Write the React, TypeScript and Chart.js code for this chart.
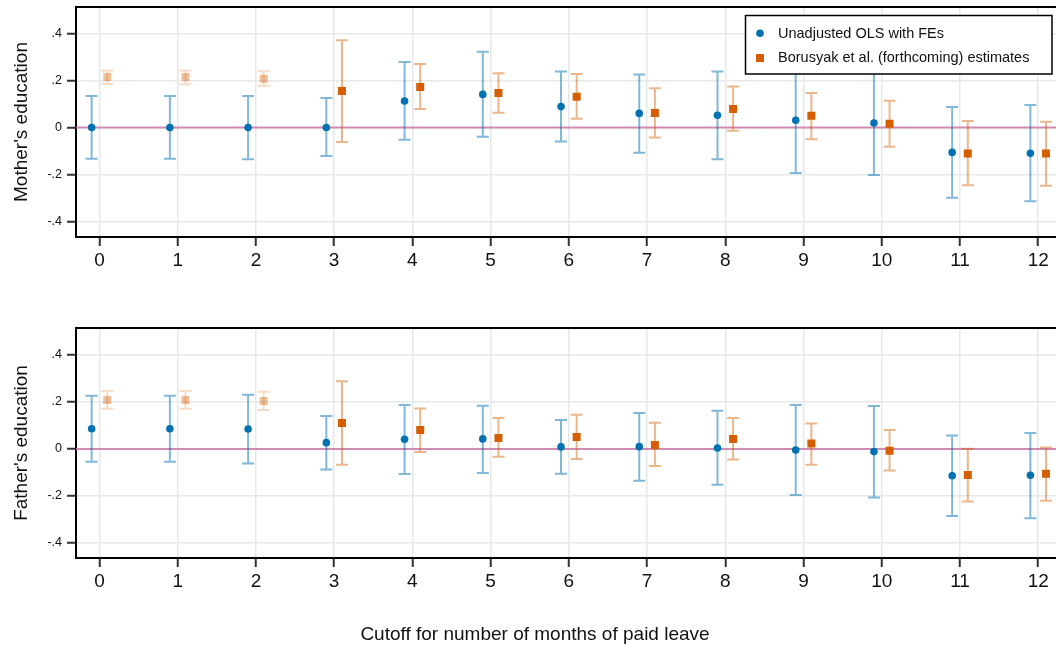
import React, { useEffect, useRef } from "react";
import { Chart, registerables } from "chart.js";

Chart.register(...registerables);

// ---------- data ----------
const months = [0, 1, 2, 3, 4, 5, 6, 7, 8, 9, 10, 11, 12];
const yTickValues = [-0.4, -0.2, 0, 0.2, 0.4];
const preTreatmentMonths = [0, 1, 2];

const motherOls = [0, 0, 0, 0, 0.113, 0.141, 0.089, 0.06, 0.052, 0.031, 0.019, -0.106, -0.11];
const motherOlsLo = [-0.133, -0.133, -0.135, -0.121, -0.052, -0.039, -0.059, -0.107, -0.135, -0.194, -0.202, -0.299, -0.314];
const motherOlsHi = [0.134, 0.134, 0.134, 0.126, 0.279, 0.323, 0.238, 0.226, 0.238, 0.256, 0.24, 0.087, 0.096];

const motherBjs = [0.215, 0.215, 0.208, 0.155, 0.172, 0.147, 0.131, 0.062, 0.079, 0.05, 0.016, -0.111, -0.111];
const motherBjsLo = [0.185, 0.184, 0.178, -0.062, 0.079, 0.063, 0.037, -0.042, -0.014, -0.05, -0.082, -0.246, -0.248];
const motherBjsHi = [0.243, 0.243, 0.239, 0.372, 0.27, 0.231, 0.228, 0.167, 0.175, 0.147, 0.114, 0.028, 0.025];

const fatherOls = [0.086, 0.086, 0.085, 0.027, 0.041, 0.043, 0.009, 0.01, 0.004, -0.004, -0.011, -0.114, -0.112];
const fatherOlsLo = [-0.054, -0.054, -0.062, -0.087, -0.106, -0.102, -0.105, -0.135, -0.152, -0.196, -0.206, -0.285, -0.295];
const fatherOlsHi = [0.227, 0.227, 0.231, 0.14, 0.187, 0.184, 0.123, 0.153, 0.163, 0.187, 0.183, 0.057, 0.068];

const fatherBjs = [0.209, 0.209, 0.204, 0.111, 0.081, 0.047, 0.051, 0.017, 0.043, 0.023, -0.007, -0.111, -0.105];
const fatherBjsLo = [0.171, 0.171, 0.166, -0.067, -0.013, -0.033, -0.043, -0.072, -0.045, -0.067, -0.092, -0.224, -0.22];
const fatherBjsHi = [0.247, 0.247, 0.244, 0.288, 0.172, 0.132, 0.146, 0.112, 0.132, 0.109, 0.081, 0.001, 0.006];

const olsLabel = "Unadjusted OLS with FEs";
const bjsLabel = "Borusyak et al. (forthcoming) estimates";
const xTitle = "Cutoff for number of months of paid leave";
const motherTitle = "Mother's education";
const fatherTitle = "Father's education";

// ---------- styles ----------
const FONT = "'Liberation Sans', Arial, Helvetica, sans-serif";
const BLUE = "rgb(0,114,178)";
const BLUE_BAR = "rgba(0,114,178,0.5)";
const ORANGE = "rgb(213,94,0)";
const ORANGE_BAR = "rgba(213,94,0,0.45)";
const ORANGE_FADED = "rgba(213,94,0,0.4)";
const ORANGE_BAR_FADED = "rgba(213,94,0,0.22)";
const ZERO_LINE = "rgba(204,121,167,0.85)";
const GRID = "#e8e8e8";
const OFFSET = 0.1;
const W = 1056;
const CANVAS_W = 1065;
const TOP_H = 300;
const BOT_H = 351;

Chart.defaults.font.family = FONT;

const fmtTick = (v: number) => {
  if (Math.abs(v) < 1e-9) return "0";
  const s = Math.abs(v).toFixed(1).replace(/^0/, "");
  return (v < 0 ? "-" : "") + s;
};

const isFaded = (m: number) => preTreatmentMonths.includes(m);

const decorPlugin = {
  id: "decor",
  beforeDatasetsDraw(chart: any) {
    const { ctx, chartArea, scales } = chart;
    const x = scales.x;
    const y = scales.y;
    ctx.save();
    ctx.beginPath();
    ctx.rect(chartArea.left, chartArea.top, chartArea.right - chartArea.left, chartArea.bottom - chartArea.top);
    ctx.clip();
    // zero line
    const y0 = y.getPixelForValue(0);
    ctx.strokeStyle = ZERO_LINE;
    ctx.lineWidth = 2;
    ctx.beginPath();
    ctx.moveTo(chartArea.left, y0);
    ctx.lineTo(chartArea.right, y0);
    ctx.stroke();
    // error bars
    chart.data.datasets.forEach((ds: any) => {
      ds.data.forEach((pt: any, i: number) => {
        const px = x.getPixelForValue(pt.x);
        const top = y.getPixelForValue(ds.errHi[i]);
        const bot = y.getPixelForValue(ds.errLo[i]);
        ctx.strokeStyle = ds.fadeOld && isFaded(ds.months[i]) ? ds.errColorFaded : ds.errColor;
        ctx.lineWidth = 2;
        ctx.beginPath();
        ctx.moveTo(px, top);
        ctx.lineTo(px, bot);
        ctx.moveTo(px - 6, top);
        ctx.lineTo(px + 6, top);
        ctx.moveTo(px - 6, bot);
        ctx.lineTo(px + 6, bot);
        ctx.stroke();
      });
    });
    ctx.restore();
  },
  afterDraw(chart: any) {
    const { ctx, chartArea } = chart;
    const o = chart.options.plugins.decor || {};
    ctx.save();
    // top frame line
    ctx.strokeStyle = "#000";
    ctx.lineWidth = 2;
    ctx.beginPath();
    ctx.moveTo(chartArea.left - 1, chartArea.top);
    ctx.lineTo(chartArea.right, chartArea.top);
    ctx.stroke();

    if (o.legend) {
      const lx = 745.5, ly = 15.5, lw = 306.5, lh = 58.5;
      ctx.fillStyle = "#fff";
      ctx.fillRect(lx, ly, lw, lh);
      ctx.strokeStyle = "#000";
      ctx.lineWidth = 1.5;
      ctx.strokeRect(lx, ly, lw, lh);
      ctx.fillStyle = BLUE;
      ctx.beginPath();
      ctx.arc(760, 33.3, 3.8, 0, Math.PI * 2);
      ctx.fill();
      ctx.fillStyle = ORANGE;
      ctx.fillRect(756, 54, 8, 8);
      ctx.fillStyle = "#111";
      ctx.font = `14.5px ${FONT}`;
      ctx.textBaseline = "middle";
      ctx.textAlign = "left";
      ctx.fillText(olsLabel, 778, 33.5);
      ctx.fillText(bjsLabel, 778, 58.3);
    }
    if (o.xTitle) {
      ctx.fillStyle = "#111";
      ctx.font = `19px ${FONT}`;
      ctx.textBaseline = "middle";
      ctx.textAlign = "center";
      ctx.fillText(o.xTitle, 535, 335);
    }
    ctx.restore();
  },
};

interface PanelOpts {
  title: string;
  ols: number[]; olsLo: number[]; olsHi: number[];
  bjs: number[]; bjsLo: number[]; bjsHi: number[];
  yMin: number; yMax: number;
  padTop: number; xAxisHeight: number;
  legend: boolean; xTitle?: string;
}

function makeChart(canvas: HTMLCanvasElement, o: PanelOpts) {
  return new Chart(canvas, {
    type: "scatter",
    data: {
      datasets: [
        {
          label: olsLabel,
          data: months.map((m, i) => ({ x: m - OFFSET, y: o.ols[i] })),
          pointStyle: "circle",
          pointRadius: 3.8,
          backgroundColor: BLUE,
          borderWidth: 0,
          errLo: o.olsLo, errHi: o.olsHi, errColor: BLUE_BAR, errColorFaded: BLUE_BAR,
          fadeOld: false, months,
        } as any,
        {
          label: bjsLabel,
          data: months.map((m, i) => ({ x: m + OFFSET, y: o.bjs[i] })),
          pointStyle: "rect",
          pointRadius: 5.66,
          backgroundColor: months.map((m) => (isFaded(m) ? ORANGE_FADED : ORANGE)),
          borderWidth: 0,
          errLo: o.bjsLo, errHi: o.bjsHi, errColor: ORANGE_BAR, errColorFaded: ORANGE_BAR_FADED,
          fadeOld: true, months,
        } as any,
      ],
    },
    options: {
      animation: false,
      responsive: false,
      devicePixelRatio: 1,
      events: [],
      layout: { padding: { top: o.padTop, left: 0, right: 0, bottom: 0 } },
      plugins: {
        legend: { display: false },
        tooltip: { enabled: false },
        decor: { legend: o.legend, xTitle: o.xTitle },
      } as any,
      scales: {
        x: {
          type: "linear",
          min: -0.3,
          max: 12.27,
          afterBuildTicks: (s: any) => { s.ticks = months.map((v) => ({ value: v })); },
          afterFit: (s: any) => { s.height = o.xAxisHeight; s.paddingLeft = 0; s.paddingRight = 0; },
          ticks: { font: { size: 19 }, color: "#111", padding: 3, maxRotation: 0, autoSkip: false, callback: (v: any) => String(v) },
          grid: { color: GRID, lineWidth: 1.5, tickColor: "#333", tickLength: 9, tickWidth: 2 },
          border: { color: "#000", width: 2 },
        },
        y: {
          type: "linear",
          min: o.yMin,
          max: o.yMax,
          afterBuildTicks: (s: any) => { s.ticks = yTickValues.map((v) => ({ value: v })); },
          afterFit: (s: any) => { s.width = 76; s.paddingTop = 0; s.paddingBottom = 0; },
          ticks: { font: { size: 12.5 }, color: "#111", padding: 5, callback: (v: any) => fmtTick(Number(v)) },
          grid: { color: GRID, lineWidth: 1.5, tickColor: "#333", tickLength: 9, tickWidth: 2 },
          border: { color: "#000", width: 2 },
          title: { display: true, text: o.title, font: { size: 19 }, color: "#111", padding: { top: 10, bottom: 0 } },
        },
      },
    } as any,
    plugins: [decorPlugin as any],
  });
}

export default function App() {
  const topRef = useRef<HTMLCanvasElement>(null);
  const botRef = useRef<HTMLCanvasElement>(null);

  useEffect(() => {
    const c1 = makeChart(topRef.current!, {
      title: motherTitle,
      ols: motherOls, olsLo: motherOlsLo, olsHi: motherOlsHi,
      bjs: motherBjs, bjsLo: motherBjsLo, bjsHi: motherBjsHi,
      yMin: -0.466, yMax: 0.513,
      padTop: 7, xAxisHeight: TOP_H - 237,
      legend: true,
    });
    const c2 = makeChart(botRef.current!, {
      title: fatherTitle,
      ols: fatherOls, olsLo: fatherOlsLo, olsHi: fatherOlsHi,
      bjs: fatherBjs, bjsLo: fatherBjsLo, bjsHi: fatherBjsHi,
      yMin: -0.464, yMax: 0.515,
      padTop: 28, xAxisHeight: BOT_H - 258,
      legend: false,
      xTitle,
    });
    return () => { c1.destroy(); c2.destroy(); };
  }, []);

  return (
    <div style={{ position: "fixed", left: 0, top: 0, width: W, height: TOP_H + BOT_H, background: "#fff", overflow: "hidden" }}>
      <canvas ref={topRef} width={CANVAS_W} height={TOP_H} style={{ display: "block" }} />
      <canvas ref={botRef} width={CANVAS_W} height={BOT_H} style={{ display: "block" }} />
    </div>
  );
}
